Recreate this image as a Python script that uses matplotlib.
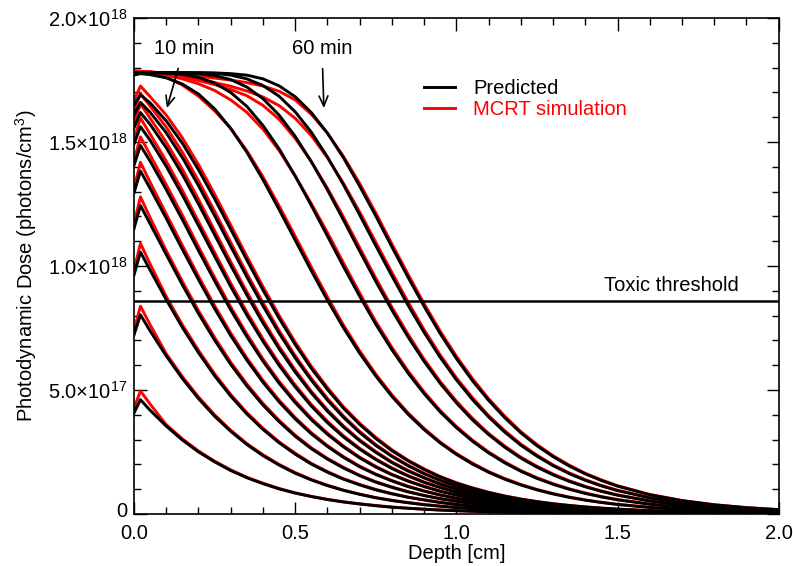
import numpy as np
import matplotlib
matplotlib.use("Agg")
import matplotlib.pyplot as plt
import matplotlib.transforms as mtransforms
from matplotlib.lines import Line2D
from matplotlib.ticker import MultipleLocator

plt.rcParams['font.family'] = ['Liberation Sans', 'DejaVu Sans']
plt.rcParams['mathtext.fontset'] = 'custom'
plt.rcParams['mathtext.rm'] = 'Liberation Sans'
plt.rcParams['mathtext.it'] = 'Liberation Sans:italic'

########## DATA (dose in units of 1e17 photons/cm^3) ##########
depth = [0.0, 0.02, 0.05, 0.10, 0.15, 0.20, 0.25, 0.30, 0.35, 0.40, 0.45, 0.50,
         0.55, 0.60, 0.65, 0.70, 0.75, 0.80, 0.85, 0.90, 0.95, 1.00, 1.05, 1.10,
         1.15, 1.20, 1.25, 1.30, 1.35, 1.40, 1.45, 1.50, 1.60, 1.70, 1.80, 1.90, 2.00]

times = [1, 2, 3, 4, 5, 6, 7, 8, 9, 10, 20, 30, 40, 50, 60]

# predicted
p01 = [4.07, 4.61, 4.18, 3.54, 2.98, 2.50, 2.10, 1.75, 1.46, 1.22, 1.01, 0.84, 0.70, 0.58, 0.48, 0.40, 0.33, 0.27, 0.23, 0.19, 0.155, 0.129, 0.106, 0.088, 0.073, 0.060, 0.050, 0.041, 0.034, 0.028, 0.023, 0.019, 0.013, 0.009, 0.006, 0.004, 0.003]
p02 = [7.22, 8.03, 7.38, 6.37, 5.46, 4.65, 3.94, 3.33, 2.80, 2.35, 1.97, 1.64, 1.37, 1.14, 0.95, 0.79, 0.65, 0.54, 0.45, 0.37, 0.31, 0.256, 0.212, 0.175, 0.145, 0.120, 0.099, 0.082, 0.068, 0.056, 0.047, 0.039, 0.026, 0.018, 0.012, 0.008, 0.006]
p03 = [9.64, 10.56, 9.83, 8.64, 7.52, 6.50, 5.57, 4.75, 4.03, 3.41, 2.87, 2.41, 2.01, 1.68, 1.40, 1.17, 0.97, 0.81, 0.67, 0.56, 0.46, 0.38, 0.317, 0.262, 0.217, 0.180, 0.149, 0.123, 0.102, 0.084, 0.070, 0.058, 0.040, 0.027, 0.018, 0.013, 0.009]
p04 = [11.51, 12.44, 11.70, 10.46, 9.24, 8.08, 7.01, 6.03, 5.16, 4.39, 3.72, 3.13, 2.63, 2.21, 1.85, 1.54, 1.28, 1.07, 0.89, 0.74, 0.61, 0.51, 0.421, 0.350, 0.289, 0.240, 0.198, 0.164, 0.136, 0.112, 0.093, 0.077, 0.053, 0.036, 0.025, 0.017, 0.012]
p05 = [12.95, 13.83, 13.13, 11.92, 10.67, 9.45, 8.28, 7.19, 6.20, 5.31, 4.52, 3.83, 3.23, 2.72, 2.28, 1.90, 1.59, 1.33, 1.10, 0.92, 0.76, 0.63, 0.525, 0.437, 0.361, 0.299, 0.247, 0.205, 0.170, 0.140, 0.116, 0.096, 0.066, 0.045, 0.031, 0.021, 0.014]
p06 = [14.06, 14.86, 14.23, 13.08, 11.87, 10.62, 9.40, 8.23, 7.15, 6.16, 5.27, 4.49, 3.80, 3.21, 2.70, 2.26, 1.89, 1.58, 1.32, 1.10, 0.91, 0.76, 0.628, 0.522, 0.432, 0.358, 0.297, 0.246, 0.203, 0.168, 0.139, 0.115, 0.079, 0.054, 0.037, 0.025, 0.017]
p07 = [14.92, 15.62, 15.07, 14.02, 12.86, 11.63, 10.39, 9.17, 8.02, 6.96, 5.99, 5.12, 4.35, 3.68, 3.10, 2.61, 2.19, 1.83, 1.53, 1.27, 1.06, 0.88, 0.731, 0.607, 0.503, 0.417, 0.346, 0.286, 0.237, 0.196, 0.162, 0.134, 0.092, 0.063, 0.043, 0.030, 0.020]
p08 = [15.58, 16.19, 15.71, 14.77, 13.69, 12.50, 11.26, 10.02, 8.83, 7.70, 6.66, 5.72, 4.88, 4.14, 3.50, 2.95, 2.48, 2.07, 1.73, 1.45, 1.20, 1.00, 0.833, 0.692, 0.574, 0.476, 0.394, 0.326, 0.271, 0.224, 0.186, 0.153, 0.105, 0.072, 0.049, 0.034, 0.023]
p09 = [16.09, 16.60, 16.20, 15.37, 14.37, 13.24, 12.03, 10.79, 9.56, 8.39, 7.29, 6.29, 5.39, 4.59, 3.89, 3.28, 2.76, 2.32, 1.94, 1.62, 1.35, 1.12, 0.934, 0.776, 0.644, 0.534, 0.443, 0.367, 0.304, 0.252, 0.209, 0.172, 0.118, 0.081, 0.056, 0.038, 0.026]
p10 = [16.48, 16.91, 16.58, 15.85, 14.95, 13.88, 12.71, 11.48, 10.24, 9.03, 7.89, 6.83, 5.87, 5.02, 4.26, 3.61, 3.04, 2.55, 2.14, 1.79, 1.49, 1.24, 1.035, 0.861, 0.714, 0.593, 0.491, 0.407, 0.338, 0.279, 0.232, 0.192, 0.131, 0.090, 0.062, 0.042, 0.029]
p20 = [17.70, 17.76, 17.72, 17.59, 17.34, 16.94, 16.34, 15.55, 14.59, 13.48, 12.28, 11.04, 9.81, 8.62, 7.50, 6.48, 5.56, 4.74, 4.02, 3.40, 2.86, 2.40, 2.01, 1.68, 1.40, 1.166, 0.970, 0.806, 0.669, 0.555, 0.460, 0.381, 0.262, 0.179, 0.123, 0.084, 0.058]
p30 = [17.80, 17.80, 17.80, 17.78, 17.73, 17.61, 17.38, 17.00, 16.44, 15.67, 14.73, 13.63, 12.44, 11.21, 9.97, 8.78, 7.65, 6.62, 5.68, 4.85, 4.11, 3.48, 2.93, 2.46, 2.06, 1.72, 1.434, 1.195, 0.994, 0.826, 0.686, 0.569, 0.391, 0.268, 0.184, 0.126, 0.087]
p40 = [17.80, 17.80, 17.80, 17.80, 17.79, 17.76, 17.68, 17.52, 17.22, 16.75, 16.09, 15.23, 14.21, 13.07, 11.85, 10.60, 9.38, 8.22, 7.14, 6.15, 5.26, 4.48, 3.79, 3.20, 2.69, 2.25, 1.887, 1.575, 1.313, 1.093, 0.909, 0.754, 0.520, 0.357, 0.245, 0.168, 0.115]
p50 = [17.80, 17.80, 17.80, 17.80, 17.80, 17.79, 17.77, 17.70, 17.55, 17.28, 16.85, 16.22, 15.40, 14.40, 13.27, 12.06, 10.82, 9.60, 8.42, 7.32, 6.31, 5.41, 4.61, 3.91, 3.30, 2.77, 2.33, 1.946, 1.625, 1.355, 1.128, 0.939, 0.647, 0.445, 0.305, 0.210, 0.144]
p60 = [17.80, 17.80, 17.80, 17.80, 17.80, 17.80, 17.79, 17.76, 17.70, 17.55, 17.27, 16.83, 16.19, 15.36, 14.36, 13.22, 12.02, 10.77, 9.55, 8.37, 7.27, 6.27, 5.37, 4.58, 3.88, 3.27, 2.75, 2.31, 1.932, 1.613, 1.346, 1.12, 0.773, 0.533, 0.366, 0.251, 0.172]

# MCRT simulation
m01 = [4.27, 4.96, 4.43, 3.60, 3.03, 2.54, 2.13, 1.78, 1.48, 1.24, 1.03, 0.85, 0.71, 0.59, 0.49, 0.41, 0.34, 0.28, 0.23, 0.19, 0.16, 0.132, 0.108, 0.090, 0.075, 0.062, 0.051, 0.042, 0.035, 0.029, 0.024, 0.020, 0.014, 0.010, 0.007, 0.005, 0.004]
m02 = [7.42, 8.38, 7.63, 6.46, 5.54, 4.72, 4.00, 3.38, 2.84, 2.39, 2.00, 1.67, 1.39, 1.16, 0.96, 0.80, 0.66, 0.55, 0.46, 0.38, 0.32, 0.262, 0.217, 0.179, 0.148, 0.123, 0.101, 0.084, 0.070, 0.058, 0.048, 0.040, 0.027, 0.019, 0.013, 0.009, 0.007]
m03 = [9.84, 10.91, 10.08, 8.77, 7.63, 6.60, 5.65, 4.82, 4.09, 3.46, 2.91, 2.45, 2.04, 1.71, 1.42, 1.19, 0.99, 0.82, 0.68, 0.57, 0.47, 0.39, 0.324, 0.268, 0.222, 0.184, 0.152, 0.126, 0.104, 0.086, 0.072, 0.060, 0.041, 0.028, 0.019, 0.014, 0.010]
m04 = [11.71, 12.79, 11.95, 10.62, 9.38, 8.20, 7.12, 6.12, 5.24, 4.46, 3.78, 3.18, 2.67, 2.24, 1.88, 1.56, 1.30, 1.09, 0.90, 0.75, 0.62, 0.52, 0.431, 0.358, 0.295, 0.245, 0.202, 0.168, 0.139, 0.115, 0.095, 0.079, 0.055, 0.037, 0.026, 0.018, 0.013]
m05 = [13.15, 14.18, 13.38, 12.10, 10.83, 9.59, 8.40, 7.30, 6.29, 5.39, 4.59, 3.89, 3.28, 2.76, 2.31, 1.93, 1.61, 1.35, 1.12, 0.93, 0.77, 0.64, 0.536, 0.446, 0.368, 0.305, 0.252, 0.209, 0.174, 0.143, 0.119, 0.098, 0.068, 0.046, 0.032, 0.022, 0.015]
m06 = [14.26, 15.21, 14.48, 13.28, 12.05, 10.78, 9.54, 8.35, 7.26, 6.25, 5.35, 4.56, 3.86, 3.26, 2.74, 2.29, 1.92, 1.60, 1.34, 1.12, 0.92, 0.77, 0.641, 0.532, 0.441, 0.365, 0.303, 0.251, 0.207, 0.171, 0.142, 0.117, 0.081, 0.055, 0.038, 0.026, 0.018]
m07 = [15.12, 15.97, 15.32, 14.23, 13.05, 11.80, 10.55, 9.31, 8.14, 7.06, 6.08, 5.20, 4.42, 3.74, 3.15, 2.65, 2.22, 1.86, 1.55, 1.29, 1.08, 0.89, 0.745, 0.620, 0.513, 0.425, 0.353, 0.292, 0.242, 0.200, 0.165, 0.137, 0.094, 0.064, 0.044, 0.031, 0.021]
m08 = [15.78, 16.54, 15.96, 14.99, 13.90, 12.69, 11.43, 10.17, 8.96, 7.82, 6.76, 5.81, 4.95, 4.20, 3.55, 2.99, 2.52, 2.10, 1.76, 1.47, 1.22, 1.02, 0.850, 0.705, 0.585, 0.486, 0.402, 0.333, 0.276, 0.228, 0.190, 0.156, 0.107, 0.074, 0.050, 0.035, 0.024]
m09 = [16.29, 16.95, 16.45, 15.60, 14.59, 13.44, 12.21, 10.95, 9.70, 8.52, 7.40, 6.38, 5.47, 4.66, 3.95, 3.33, 2.80, 2.35, 1.97, 1.64, 1.37, 1.14, 0.953, 0.792, 0.657, 0.545, 0.452, 0.374, 0.310, 0.257, 0.213, 0.175, 0.120, 0.083, 0.057, 0.039, 0.027]
m10 = [16.68, 17.26, 16.83, 16.09, 15.17, 14.09, 12.90, 11.65, 10.39, 9.17, 8.01, 6.93, 5.96, 5.10, 4.32, 3.66, 3.09, 2.59, 2.17, 1.82, 1.51, 1.26, 1.055, 0.877, 0.728, 0.605, 0.501, 0.415, 0.345, 0.285, 0.237, 0.196, 0.134, 0.092, 0.063, 0.043, 0.030]
m20 = [17.82, 17.84, 17.80, 17.62, 17.30, 16.85, 16.26, 15.55, 14.65, 13.60, 12.43, 11.20, 9.96, 8.75, 7.61, 6.58, 5.64, 4.81, 4.08, 3.45, 2.90, 2.44, 2.05, 1.71, 1.43, 1.19, 0.989, 0.822, 0.682, 0.566, 0.469, 0.389, 0.267, 0.183, 0.126, 0.086, 0.059]
m30 = [17.86, 17.85, 17.82, 17.70, 17.55, 17.35, 17.08, 16.70, 16.20, 15.52, 14.66, 13.63, 12.52, 11.35, 10.12, 8.91, 7.76, 6.72, 5.77, 4.92, 4.17, 3.53, 2.98, 2.50, 2.10, 1.75, 1.462, 1.22, 1.014, 0.843, 0.700, 0.580, 0.399, 0.273, 0.188, 0.129, 0.089]
m40 = [17.86, 17.85, 17.83, 17.74, 17.62, 17.48, 17.32, 17.12, 16.87, 16.48, 15.92, 15.15, 14.21, 13.14, 11.97, 10.74, 9.51, 8.34, 7.25, 6.24, 5.34, 4.55, 3.86, 3.25, 2.74, 2.29, 1.924, 1.61, 1.339, 1.115, 0.927, 0.769, 0.530, 0.364, 0.250, 0.171, 0.117]
m50 = [17.86, 17.85, 17.83, 17.76, 17.66, 17.54, 17.40, 17.25, 17.06, 16.82, 16.47, 15.96, 15.26, 14.37, 13.33, 12.18, 10.96, 9.74, 8.55, 7.43, 6.41, 5.49, 4.69, 3.97, 3.36, 2.82, 2.37, 1.98, 1.657, 1.38, 1.150, 0.958, 0.660, 0.454, 0.311, 0.214, 0.147]
m60 = [17.86, 17.85, 17.83, 17.78, 17.72, 17.66, 17.58, 17.50, 17.40, 17.26, 17.05, 16.70, 16.12, 15.36, 14.42, 13.33, 12.14, 10.89, 9.67, 8.48, 7.37, 6.36, 5.46, 4.65, 3.95, 3.32, 2.80, 2.35, 1.970, 1.64, 1.373, 1.14, 0.787, 0.543, 0.373, 0.256, 0.175]

predicted = [p01, p02, p03, p04, p05, p06, p07, p08, p09, p10, p20, p30, p40, p50, p60]
mcrt = [m01, m02, m03, m04, m05, m06, m07, m08, m09, m10, m20, m30, m40, m50, m60]

toxic_threshold = 8.6e17

x_ticks = [0.0, 0.5, 1.0, 1.5, 2.0]
x_tick_labels = ['0.0', '0.5', '1.0', '1.5', '2.0']
y_ticks = [0, 5e17, 1e18, 1.5e18, 2e18]
y_tick_labels = ['0', '5.0×10$^{17}$', '1.0×10$^{18}$', '1.5×10$^{18}$', '2.0×10$^{18}$']

########## PLOT ##########
fs = 14.5
fig = plt.figure(figsize=(7.93, 5.66), dpi=100)
ax = fig.add_axes([0.169, 0.092, 0.813, 0.876])

x = np.array(depth)
for m in mcrt:
    ax.plot(x, np.array(m) * 1e17, color='red', lw=2.1, solid_joinstyle='round')
for p in predicted:
    ax.plot(x, np.array(p) * 1e17, color='black', lw=2.1, solid_joinstyle='round')

ax.axhline(toxic_threshold, color='black', lw=1.8)
ax.text(1.876, 8.99e17, 'Toxic threshold', ha='right', va='baseline', fontsize=fs)

arrow = dict(arrowstyle='->,head_length=0.5,head_width=0.22', color='black',
             lw=1.2, shrinkA=6, shrinkB=0)
ax.annotate('10 min', xy=(0.102, 1.637e18), xytext=(0.155, 1.879e18),
            ha='center', va='center', fontsize=fs, arrowprops=arrow)
ax.annotate('60 min', xy=(0.589, 1.637e18), xytext=(0.583, 1.879e18),
            ha='center', va='center', fontsize=fs, arrowprops=arrow)

handles = [Line2D([], [], color='black', lw=2.1), Line2D([], [], color='red', lw=2.1)]
leg = ax.legend(handles, ['Predicted', 'MCRT simulation'], loc='upper left',
                bbox_to_anchor=(0.4496, 0.878), frameon=False, fontsize=fs,
                handlelength=1.55, handletextpad=0.9, labelspacing=0.12,
                borderpad=0, borderaxespad=0)
leg.get_texts()[1].set_color('red')

ax.set_xlim(0, 2.0)
ax.set_ylim(0, 2e18)
ax.set_xticks(x_ticks)
ax.set_xticklabels(x_tick_labels)
ax.set_yticks(y_ticks)
ax.set_yticklabels(y_tick_labels)
ax.xaxis.set_minor_locator(MultipleLocator(0.1))
ax.yaxis.set_minor_locator(MultipleLocator(1e17))
ax.tick_params(which='both', direction='in', top=True, right=True, labelsize=fs)
ax.tick_params(which='major', length=9, width=1.0)
ax.tick_params(which='minor', length=5, width=1.0)
ax.tick_params(axis='x', which='major', pad=7)
ax.tick_params(axis='y', which='major', pad=5)
# lift the y "0" label a few pixels so it clears the x "0.0" label
zero_lbl = ax.get_yticklabels()[0]
zero_lbl.set_transform(zero_lbl.get_transform() +
                       mtransforms.ScaledTranslation(0, 3 / 72, fig.dpi_scale_trans))
for s in ax.spines.values():
    s.set_linewidth(1.2)

ax.set_xlabel('Depth [cm]', fontsize=fs, labelpad=1)
ax.set_ylabel('Photodynamic Dose (photons/cm$^3$)', fontsize=fs, labelpad=6)

fig.savefig('out.png', dpi=100)
